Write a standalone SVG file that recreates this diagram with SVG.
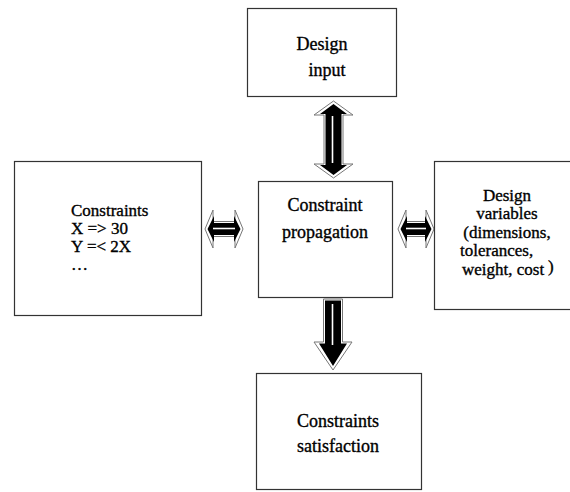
<svg xmlns="http://www.w3.org/2000/svg" width="570" height="492" viewBox="0 0 570 492">
<style>
.box{fill:#fff;stroke:#333;stroke-width:1.2}
.t{font-family:'Liberation Serif','Times New Roman',Tinos,'DejaVu Serif',serif;font-size:18px;fill:#000;stroke:#000;stroke-width:0.35}
.s{font-size:17px}
.m{text-anchor:middle}
.ao{fill:#fff;stroke:#777;stroke-width:1}
.ai{fill:#000}
.aw{stroke:#fff;stroke-width:1.6;fill:none}
</style>
<rect width="570" height="492" fill="#fff"/>
<g id="connectors">
<g id="arrow-top">
<polygon class="ao" points="333.5,101 353,115 343,115 343,164 353,164 333.5,178 314,164 324,164 324,115 314,115"/>
<polygon class="ai" points="333.5,104 347,114 341.5,114 341.5,165 347,165 333.5,175 320,165 325.5,165 325.5,114 320,114"/>
<line class="aw" x1="332.5" y1="116" x2="332.5" y2="163"/>
</g>
<g id="arrow-bottom">
<polygon class="ao" points="323.5,299 342.5,299 342.5,342 352,342 333,370 314,342 323.5,342"/>
<polygon class="ai" points="325,300.5 341,300.5 341,343.5 347,343.5 333,366 319,343.5 325,343.5"/>
<line class="aw" x1="332.5" y1="304" x2="332.5" y2="345"/>
</g>
<g id="arrow-left">
<polygon class="ao" points="205,229 213,210 213,221.5 235,221.5 235,210 243,229 235,248 235,236.5 213,236.5 213,248"/>
<polygon class="ai" points="207.5,229 214,216 214,223 234,223 234,216 240.5,229 234,242 234,235 214,235 214,242"/>
<line class="aw" x1="213" y1="228.5" x2="235" y2="228.5"/>
</g>
<g id="arrow-right">
<polygon class="ao" points="398,229 406,210 406,221.5 426,221.5 426,210 434,229 426,248 426,236.5 406,236.5 406,248"/>
<polygon class="ai" points="400.5,229 407,216 407,223 425,223 425,216 431.5,229 425,242 425,235 407,235 407,242"/>
<line class="aw" x1="406" y1="228.5" x2="426" y2="228.5"/>
</g>
</g>
<g id="design-input">
<rect class="box" x="247.5" y="8.5" width="149" height="88"/>
<text class="t m" x="322" y="50">Design</text>
<text class="t m" x="327" y="76">input</text>
</g>
<g id="constraints">
<rect class="box" x="14.5" y="161.5" width="187" height="154"/>
<text class="t s" x="71" y="216">Constraints</text>
<text class="t s" x="71" y="234">X =&gt; 30</text>
<text class="t s" x="71" y="252">Y =&lt; 2X</text>
<text class="t s" x="71" y="270">…</text>
</g>
<g id="constraint-propagation">
<rect class="box" x="258.5" y="181.5" width="134" height="116"/>
<text class="t m" x="325" y="211">Constraint</text>
<text class="t m" x="325" y="238">propagation</text>
</g>
<g id="design-variables">
<rect class="box" x="434.5" y="161.5" width="140" height="148"/>
<text class="t s m" x="507" y="201">Design</text>
<text class="t s m" x="507" y="219">variables</text>
<text class="t s m" x="507" y="238">(dimensions,</text>
<text class="t s" x="460" y="256">tolerances,</text>
<text class="t s" x="462" y="275">weight, cost</text>
<text class="t s" x="548" y="272">)</text>
</g>
<g id="constraints-satisfaction">
<rect class="box" x="256.5" y="373.5" width="165" height="116"/>
<text class="t m" x="338" y="427">Constraints</text>
<text class="t m" x="338" y="452">satisfaction</text>
</g>
</svg>
